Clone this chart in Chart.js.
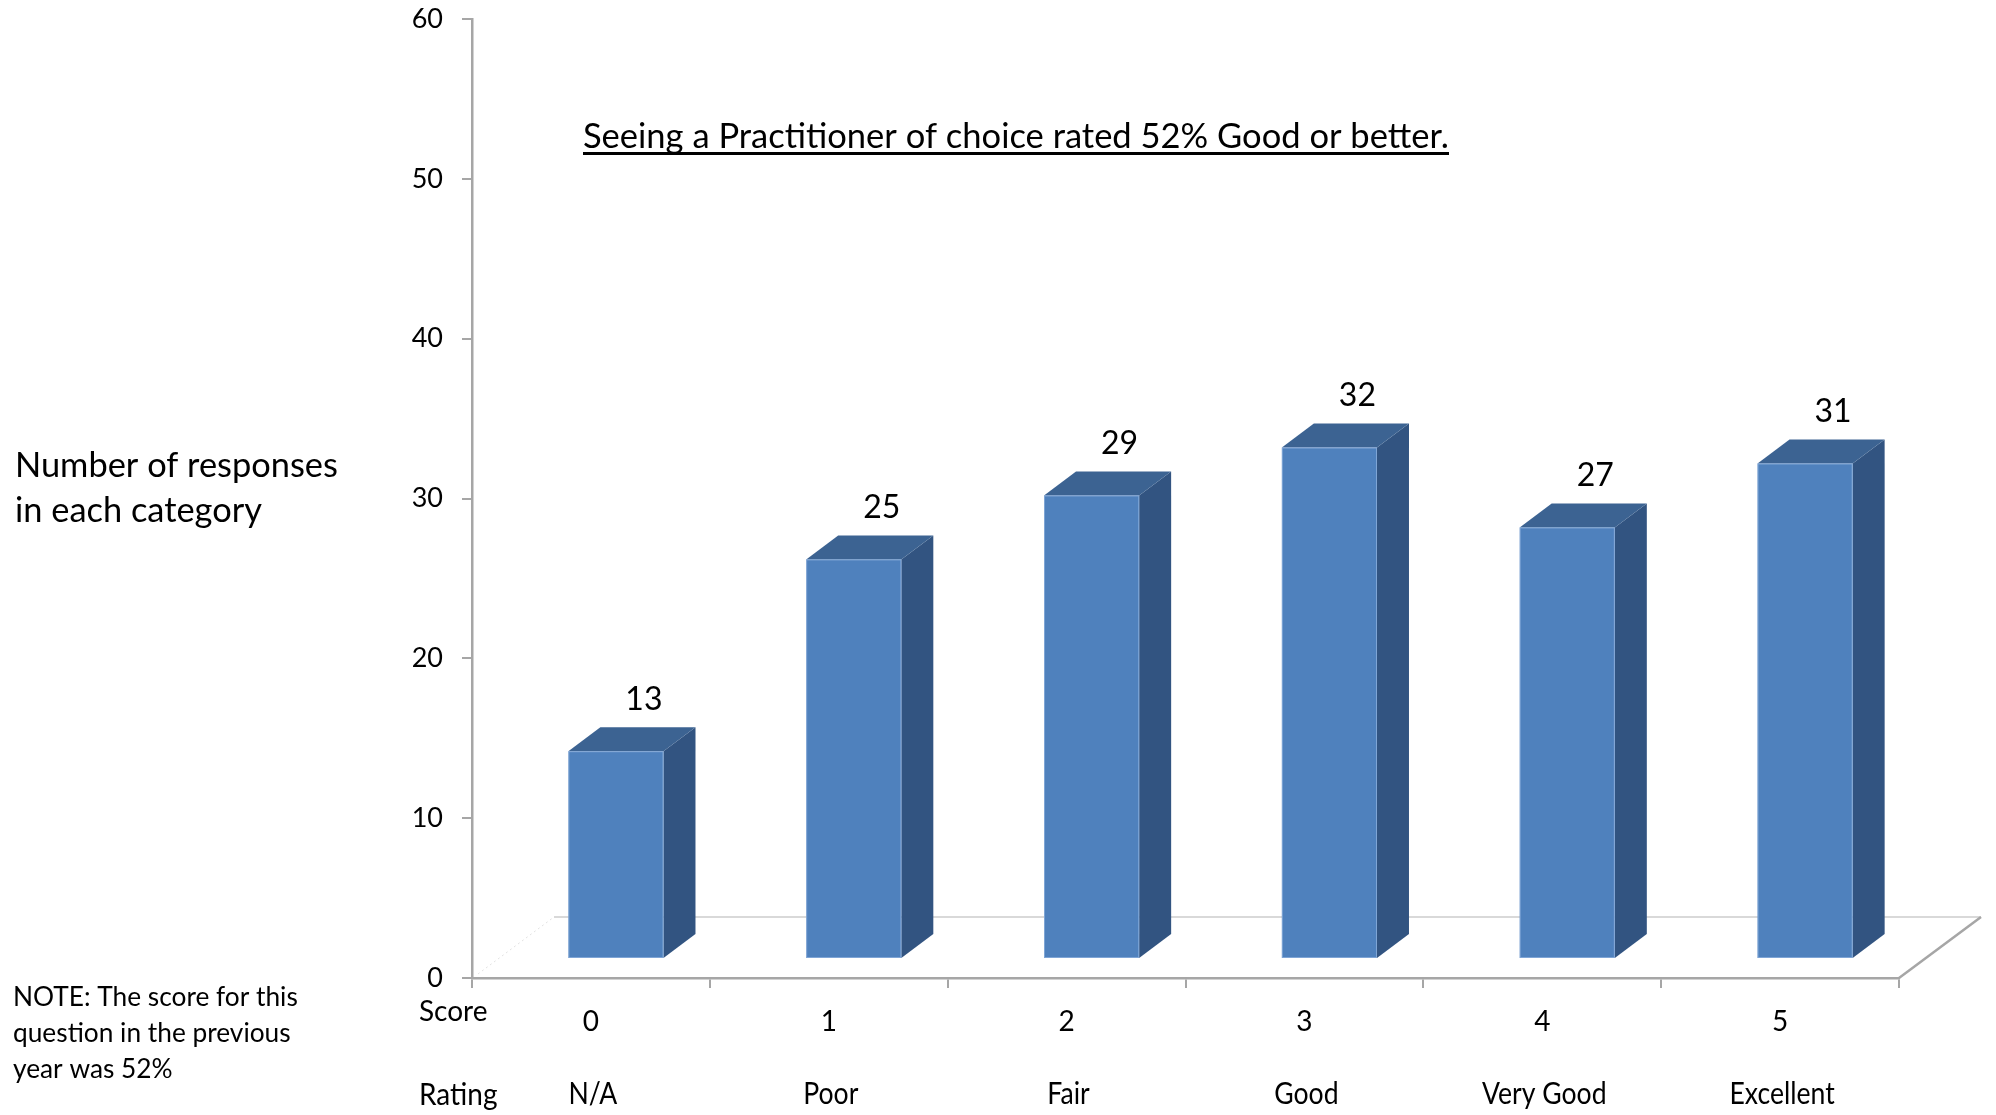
<!DOCTYPE html>
<html>
<head>
<meta charset="utf-8">
<title>Seeing a Practitioner of choice</title>
<script src="https://cdn.jsdelivr.net/npm/chart.js@4/dist/chart.umd.min.js"></script>
<style>
  html, body { margin: 0; padding: 0; background: #ffffff; overflow: hidden; }
  #wrap { width: 1996px; height: 1115px; position: relative; }
</style>
</head>
<body>
<div id="wrap"><canvas id="chart" width="1996" height="1115"></canvas></div>
<script>
// ---- data ----
const scores = ['0', '1', '2', '3', '4', '5'];
const ratings = ['N/A', 'Poor', 'Fair', 'Good', 'Very Good', 'Excellent'];
const responses = [13, 25, 29, 32, 27, 31];
const yTicks = [0, 10, 20, 30, 40, 50, 60];
const titleText = 'Seeing a Practitioner of choice rated 52% Good or better.';
const yAxisTitle = ['Number of responses', 'in each category'];
const noteLines = ['NOTE: The score for this', 'question in the previous', 'year was 52%'];
const scoreCaption = 'Score';
const ratingCaption = 'Rating';

// ---- styling ----
const FONT = 'Lato, "Open Sans", sans-serif';
const AXIS_GREY = '#a6a6a6';
const FRONT = '#4f81bd';
const TOP = '#3c6392';
const SIDE = '#325481';
const DEPTH_X = 32, DEPTH_Y = 24;      // bar depth offset
const FLOOR_X = 82, FLOOR_Y = 61;      // floor depth offset
const FLOOR_LIFT = 19;                 // bars stand on the middle of the floor
const BAR_SHIFT = 25;                  // bars sit a little right of the tick centre

function fitFont(ctx, text, width, base) {
  ctx.font = base + 'px ' + FONT;
  const w = ctx.measureText(text).width;
  return base * width / w;
}

const floorPlugin = {
  id: 'floor3d',
  beforeDatasetsDraw(chart) {
    const { ctx, chartArea: a } = chart;
    ctx.save();
    // back edge of the floor
    ctx.strokeStyle = '#d9d9d9';
    ctx.lineWidth = 2;
    ctx.beginPath();
    ctx.moveTo(a.left + FLOOR_X, a.bottom - FLOOR_Y);
    ctx.lineTo(a.right + FLOOR_X, a.bottom - FLOOR_Y);
    ctx.stroke();
    // right edge
    ctx.strokeStyle = AXIS_GREY;
    ctx.lineWidth = 2.5;
    ctx.beginPath();
    ctx.moveTo(a.right, a.bottom);
    ctx.lineTo(a.right + FLOOR_X, a.bottom - FLOOR_Y);
    ctx.stroke();
    // faint left edge
    ctx.strokeStyle = '#e2e2e2';
    ctx.lineWidth = 1;
    ctx.setLineDash([2, 3]);
    ctx.beginPath();
    ctx.moveTo(a.left + 6, a.bottom - 4);
    ctx.lineTo(a.left + FLOOR_X, a.bottom - FLOOR_Y);
    ctx.stroke();
    ctx.restore();
  }
};

const barsPlugin = {
  id: 'bars3d',
  afterDatasetsDraw(chart) {
    const { ctx } = chart;
    const meta = chart.getDatasetMeta(0);
    ctx.save();
    meta.data.forEach((el, i) => {
      const w = el.width;
      const cx = el.x + BAR_SHIFT;
      const left = cx - w / 2, right = cx + w / 2;
      const top = el.y - FLOOR_LIFT, base = el.base - FLOOR_LIFT;
      // side face
      ctx.fillStyle = SIDE;
      ctx.beginPath();
      ctx.moveTo(right, top);
      ctx.lineTo(right + DEPTH_X, top - DEPTH_Y);
      ctx.lineTo(right + DEPTH_X, base - DEPTH_Y);
      ctx.lineTo(right, base);
      ctx.closePath();
      ctx.fill();
      // top face
      ctx.fillStyle = TOP;
      ctx.beginPath();
      ctx.moveTo(left, top);
      ctx.lineTo(left + DEPTH_X, top - DEPTH_Y);
      ctx.lineTo(right + DEPTH_X, top - DEPTH_Y);
      ctx.lineTo(right, top);
      ctx.closePath();
      ctx.fill();
      // front face
      ctx.fillStyle = FRONT;
      ctx.fillRect(left, top, w, base - top);
      ctx.strokeStyle = 'rgba(160,190,230,0.6)';
      ctx.lineWidth = 1;
      ctx.strokeRect(left + 0.5, top + 0.5, w - 1, base - top - 1);
      // value label
      ctx.fillStyle = '#000';
      ctx.font = '32px ' + FONT;
      ctx.textAlign = 'center';
      ctx.textBaseline = 'middle';
      ctx.fillText(String(responses[i]), cx + 28, top - 52);
    });
    ctx.restore();
  }
};

const textPlugin = {
  id: 'texts',
  afterDraw(chart) {
    const { ctx } = chart;
    const x = chart.scales.x;
    ctx.save();
    ctx.fillStyle = '#000';
    ctx.textBaseline = 'alphabetic';

    // title, underlined
    ctx.textAlign = 'left';
    const ts = fitFont(ctx, titleText, 866, 32);
    ctx.font = ts + 'px ' + FONT;
    ctx.fillText(titleText, 583, 148);
    ctx.fillRect(583, 152, 866, 3);

    // value axis title
    const as = fitFont(ctx, yAxisTitle[0], 323, 32);
    ctx.font = as + 'px ' + FONT;
    ctx.fillText(yAxisTitle[0], 15, 477);
    ctx.fillText(yAxisTitle[1], 15, 522);

    // note
    const ns = fitFont(ctx, noteLines[0], 285, 26);
    ctx.font = ns + 'px ' + FONT;
    noteLines.forEach((t, i) => ctx.fillText(t, 13, 1006 + i * 36));

    // row captions
    ctx.textBaseline = 'middle';
    ctx.font = '28px ' + FONT;
    ctx.fillText(scoreCaption, 419, 1012);
    ctx.save();
    ctx.translate(419, 1095);
    ctx.scale(1, 1.12);
    ctx.fillText(ratingCaption, 0, 0);
    ctx.restore();

    // rating names under each score
    ctx.textAlign = 'center';
    ratings.forEach((r, i) => {
      ctx.save();
      ctx.translate(x.getPixelForValue(i) + 2, 1094);
      ctx.scale(0.95, 1.12);
      ctx.fillText(r, 0, 0);
      ctx.restore();
    });
    ctx.restore();
  }
};

const chart = new Chart(document.getElementById('chart'), {
  type: 'bar',
  data: {
    labels: scores,
    datasets: [{
      data: responses,
      backgroundColor: 'rgba(0,0,0,0)',
      borderWidth: 0,
      barPercentage: 0.4,
      categoryPercentage: 1.0
    }]
  },
  options: {
    responsive: false,
    animation: false,
    devicePixelRatio: 1,
    layout: { padding: { left: 0, top: 19, right: 97, bottom: 0 } },
    plugins: { legend: { display: false }, tooltip: { enabled: false }, title: { display: false } },
    scales: {
      x: {
        type: 'category',
        offset: true,
        grid: { offset: true, drawOnChartArea: false, drawTicks: true, tickLength: 10, color: AXIS_GREY, lineWidth: 2 },
        border: { display: true, color: AXIS_GREY, width: 2.5 },
        ticks: { color: '#000', font: { family: FONT, size: 28 }, padding: 17, maxRotation: 0 },
        afterFit(s) { s.height = 137; }
      },
      y: {
        min: 0,
        max: 60,
        afterBuildTicks(s) { s.ticks = yTicks.map(v => ({ value: v })); },
        grid: { drawOnChartArea: false, drawTicks: true, tickLength: 10, color: AXIS_GREY, lineWidth: 2 },
        border: { display: true, color: AXIS_GREY, width: 2.5 },
        ticks: { color: '#000', font: { family: FONT, size: 27 }, padding: 19 },
        afterFit(s) {
          s.width = 472;
          // the top tick label may overhang the plot edge
          s.paddingTop = 0;
          s.paddingBottom = 0;
        }
      }
    }
  },
  plugins: [floorPlugin, barsPlugin, textPlugin]
});
</script>
</body>
</html>
